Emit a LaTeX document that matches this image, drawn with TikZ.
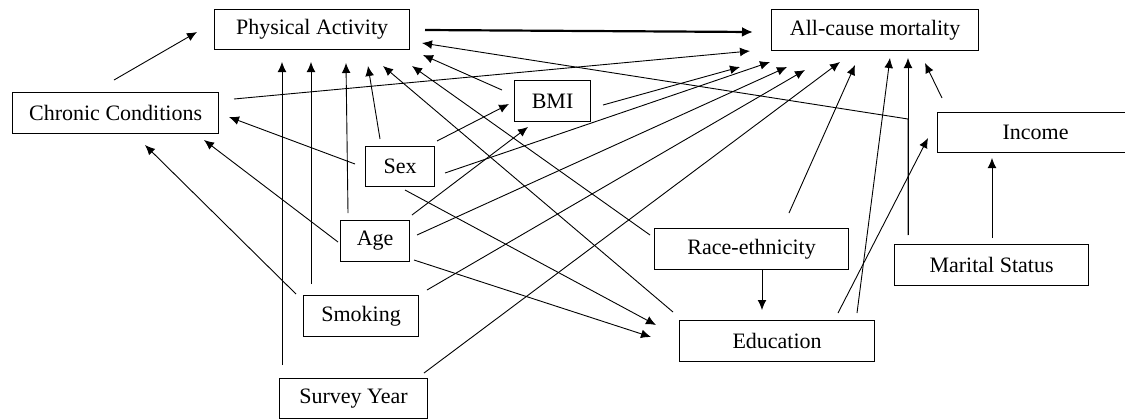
\documentclass[tikz,border=0pt]{standalone}
\usepackage{fontspec}
\setmainfont{Liberation Serif}
\usetikzlibrary{arrows.meta,calc}
\begin{document}
\begin{tikzpicture}[x=0.5pt,y=-0.5pt,
  box/.style={draw, line width=0.6pt, inner sep=0pt, anchor=north west, font=\fontsize{11}{13}\selectfont},
  arr/.style={-{Latex[length=5pt,width=4.4pt]}, line width=0.45pt},
  thickarr/.style={-{Latex[length=5.5pt,width=5pt]}, line width=1.1pt}]
\useasboundingbox (0,0) rectangle (1125,419);
\fill[white] (0,0) rectangle (1125,419);
% nodes
\node[box, minimum width=97.5pt, minimum height=20pt] (pa) at (214,9) {Physical Activity};
\node[box, minimum width=103.5pt, minimum height=20.5pt] (acm) at (771,9) {All-cause mortality};
\node[box, minimum width=103pt, minimum height=20.5pt] (cc) at (12,92) {Chronic Conditions};
\node[box, minimum width=38pt, minimum height=20.5pt] (bmi) at (514,80) {BMI};
\node[box, minimum width=34.5pt, minimum height=20pt] (sex) at (365,146) {Sex};
\node[box, minimum width=34.5pt, minimum height=20.5pt] (age) at (340,220) {Age};
\node[box, minimum width=57.5pt, minimum height=20.5pt] (smk) at (303,295) {Smoking};
\node[box, minimum width=74pt, minimum height=20pt] (sy) at (279,378) {Survey Year};
\node[box, minimum width=97pt, minimum height=20.5pt] (race) at (654,228) {Race-ethnicity};
\node[box, minimum width=97.5pt, minimum height=20.5pt] (edu) at (679,320) {Education};
\node[box, minimum width=97pt, minimum height=20.5pt] (ms) at (894,244) {Marital Status};
\node[box, minimum width=98pt, minimum height=20pt] (inc) at (937,112) {Income};
% connectors
\draw[arr] ($(cc.north west)+(102,-12)$) -- ($(pa.north west)+(-17,23)$);
\draw[thickarr] ($(pa.north west)+(211,21)$) -- ($(acm.north west)+(-18,23)$);
\draw[arr] ($(cc.north west)+(222,7)$) -- ($(acm.north west)+(-21,42)$);
\coordinate (bend) at ($(ms.north west)+(14,-125)$);
\draw[arr] ($(ms.north west)+(14,-9)$) -- (bend) -- ($(pa.north west)+(208,34)$);
\draw[arr] ($(ms.north west)+(14,-9)$) -- ($(acm.north west)+(137,49)$);
\draw[arr] ($(bmi.north west)+(-12,10)$) -- ($(pa.north west)+(209,46)$);
\draw[arr] ($(sy.north west)+(3,-13)$) -- ($(pa.north west)+(68,53)$);
\draw[arr] ($(smk.north west)+(8,-11)$) -- ($(pa.north west)+(97,53)$);
\draw[arr] ($(age.north west)+(8,-7)$) -- ($(pa.north west)+(132,54)$);
\draw[arr] ($(sex.north west)+(15,-7)$) -- ($(pa.north west)+(154,57)$);
\draw[arr] ($(edu.north west)+(-6,-8)$) -- ($(pa.north west)+(169,57)$);
\draw[arr] ($(race.north west)+(-4,7)$) -- ($(pa.north west)+(198,57)$);
\draw[arr] ($(sex.north west)+(-10,18)$) -- ($(cc.north west)+(217,25)$);
\draw[arr] ($(age.north west)+(-2,22)$) -- ($(cc.north west)+(192,48)$);
\draw[arr] ($(smk.north west)+(-7,-1)$) -- ($(cc.north west)+(133,53)$);
\draw[arr] ($(sex.north west)+(72,-5)$) -- ($(bmi.north west)+(-5,24)$);
\draw[arr] ($(age.north west)+(72,-5)$) -- ($(bmi.north west)+(14,47)$);
\draw[arr] ($(bmi.north west)+(89,25)$) -- ($(acm.north west)+(-31,58)$);
\draw[arr] ($(sex.north west)+(80,27)$) -- ($(acm.north west)+(-1,53)$);
\draw[arr] ($(age.north west)+(77,15)$) -- ($(acm.north west)+(16,58)$);
\draw[arr] ($(smk.north west)+(124,-5)$) -- ($(acm.north west)+(34,61)$);
\draw[arr] ($(sy.north west)+(145,-5)$) -- ($(acm.north west)+(69,53)$);
\draw[arr] ($(race.north west)+(135,-15)$) -- ($(acm.north west)+(84,56)$);
\draw[arr] ($(edu.north west)+(178,-7)$) -- ($(acm.north west)+(119,49)$);
\draw[arr] ($(inc.north west)+(5,-14)$) -- ($(acm.north west)+(154,54)$);
\draw[arr] ($(edu.north west)+(159,-7)$) -- ($(inc.north west)+(-9,26)$);
\draw[arr] ($(ms.north west)+(98,-6)$) -- ($(inc.north west)+(55,46)$);
\draw[arr] ($(race.north west)+(108,41)$) -- ($(edu.north west)+(83,-10)$);
\draw[arr] ($(sex.north west)+(40,44)$) -- ($(edu.north west)+(-23,5)$);
\draw[arr] ($(age.north west)+(74,40)$) -- ($(edu.north west)+(-28,17)$);
\end{tikzpicture}
\end{document}
